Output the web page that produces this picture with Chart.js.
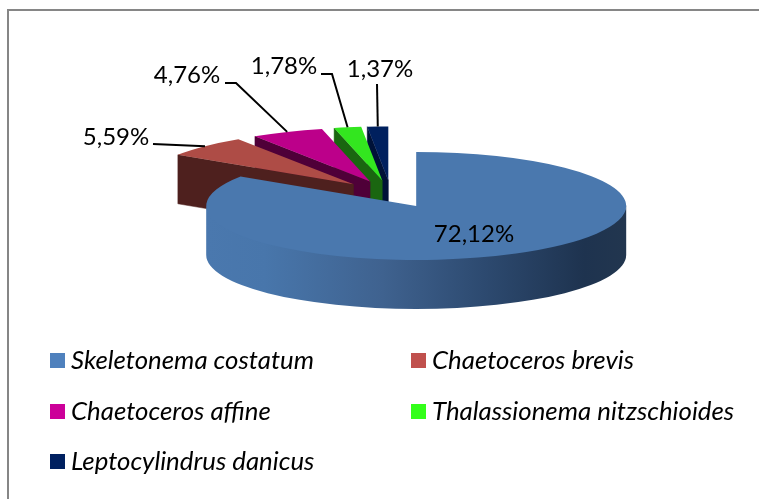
<!DOCTYPE html>
<html><head><meta charset="utf-8">
<style>html,body{margin:0;padding:0;background:#fff}#w{width:759px;height:499px;position:relative}</style>
<script src="https://cdn.jsdelivr.net/npm/chart.js@4"></script>
</head><body><div id="w"><canvas id="c" width="759" height="499"></canvas></div>
<script>
const categories = ['Skeletonema costatum','Chaetoceros brevis','Chaetoceros affine','Thalassionema nitzschioides','Leptocylindrus danicus'];
const values = [72.12,5.59,4.76,1.78,1.37];
const topColors = ['#4a78ae','#ae4c46','#bc008a','#33e61f','#00205e'];
const wallColors = ['#4a78ae','#4e201e','#4f0038','#1a6610','#001238'];
const legendColors = ['#4f81bd','#c0504d','#cc0099','#33ff1a','#002060'];

const FONT = 'Lato, sans-serif';
const SQUASH = 0.257, DEPTH = 49, EXPLODE = 53, RADIUS = 210;
const labelStyle = [
  {x:474,y:234,inside:true},
  {x:116,y:137,knees:[[153,144]]},
  {x:187,y:75,knees:[[225,83],[236,83]]},
  {x:284,y:66,knees:[[321,74],[332,74]]},
  {x:380,y:69,knees:[[377,84]]}
];
const legendCols = [50,411], legendRows = [353,404,454];

function centerOf(el){
  const mid=(el.startAngle+el.endAngle)/2;
  return {x:el.x+Math.cos(mid)*EXPLODE, y:el.y+Math.sin(mid)*EXPLODE*SQUASH};
}
function project(el,a){
  const c=centerOf(el);
  return {x:c.x+Math.cos(a)*el.outerRadius, y:c.y+Math.sin(a)*el.outerRadius*SQUASH};
}
function radialWall(ctx,el,a,color){
  const c=centerOf(el),p=project(el,a);
  ctx.fillStyle=color;ctx.strokeStyle=color;ctx.lineWidth=.5;
  ctx.beginPath();ctx.moveTo(c.x,c.y);ctx.lineTo(p.x,p.y);ctx.lineTo(p.x,p.y+DEPTH);ctx.lineTo(c.x,c.y+DEPTH);ctx.closePath();ctx.fill();ctx.stroke();
}
function outerWall(ctx,el,color){
  const c=centerOf(el),r=el.outerRadius;
  const a0=Math.max(el.startAngle,0),a1=Math.min(el.endAngle,Math.PI);
  if(a1<=a0)return;
  const g=ctx.createLinearGradient(c.x-r,0,c.x+r,0);
  g.addColorStop(0,'#4a78ae');g.addColorStop(.14,'#4876ab');g.addColorStop(.42,'#3f628f');g.addColorStop(.66,'#2d4a70');g.addColorStop(.9,'#1e334f');g.addColorStop(1,'#22364f');
  ctx.fillStyle=g;
  ctx.beginPath();ctx.ellipse(c.x,c.y-1.5,r,r*SQUASH,0,a0,a1);
  ctx.ellipse(c.x,c.y+DEPTH,r,r*SQUASH,0,a1,a0,true);ctx.closePath();ctx.fill();
}
const pie3d={id:'pie3d',
  beforeDraw(chart){
    const ctx=chart.ctx;ctx.save();
    ctx.strokeStyle='#868686';ctx.lineWidth=2;
    ctx.beginPath();ctx.moveTo(8,499);ctx.lineTo(8,10);ctx.lineTo(759,10);ctx.stroke();
    ctx.restore();
  },
  beforeDatasetDraw(chart,args){
    const ctx=chart.ctx,arcs=args.meta.data;
    for(let i=arcs.length-1;i>=0;i--){
      const el=arcs[i];
      // painter's order: the slice nearest the back goes first
      if(Math.cos(el.startAngle)<-1e-6)radialWall(ctx,el,el.startAngle,wallColors[i]);
      if(Math.cos(el.endAngle)>1e-6)radialWall(ctx,el,el.endAngle,wallColors[i]);
      outerWall(ctx,el,wallColors[i]);
      const c=centerOf(el);
      ctx.save();
      ctx.translate(c.x,c.y);ctx.scale(1,SQUASH);ctx.translate(-el.x,-el.y);
      el.draw(ctx);
      ctx.restore();
    }
    return false;
  },
  afterDraw(chart){
    const ctx=chart.ctx,arcs=chart.getDatasetMeta(0).data;
    ctx.save();
    ctx.textBaseline='middle';ctx.textAlign='center';ctx.fillStyle='#000';
    ctx.font='24px '+FONT;
    values.forEach((v,i)=>{
      const s=labelStyle[i],el=arcs[i];
      if(!s.inside){
        const mid=(el.startAngle+el.endAngle)/2,p=project(el,mid);
        ctx.strokeStyle='#000';ctx.lineWidth=2;
        ctx.beginPath();ctx.moveTo(s.knees[0][0],s.knees[0][1]);
        s.knees.slice(1).forEach(k=>ctx.lineTo(k[0],k[1]));
        ctx.lineTo(p.x,p.y);ctx.stroke();
      }
      ctx.fillStyle='#000';
      ctx.fillText(v.toFixed(2).replace('.',',')+'%',s.x,s.y);
    });
    ctx.textAlign='left';ctx.font='italic 25.8px '+FONT;
    categories.forEach((name,i)=>{
      const x=legendCols[i%2],y=legendRows[Math.floor(i/2)];
      ctx.fillStyle=legendColors[i];ctx.fillRect(x,y,15,15);
      ctx.fillStyle='#000';ctx.fillText(name,x+21,y+8);
    });
    ctx.restore();
  }
};
new Chart(document.getElementById('c'),{
  type:'pie',
  data:{labels:categories,datasets:[{data:values,backgroundColor:topColors,borderWidth:0,radius:RADIUS}]},
  options:{responsive:false,animation:false,
    layout:{padding:{left:23,bottom:111}},
    plugins:{legend:{display:false},tooltip:{enabled:false}}},
  plugins:[pie3d]
});
</script></body></html>
